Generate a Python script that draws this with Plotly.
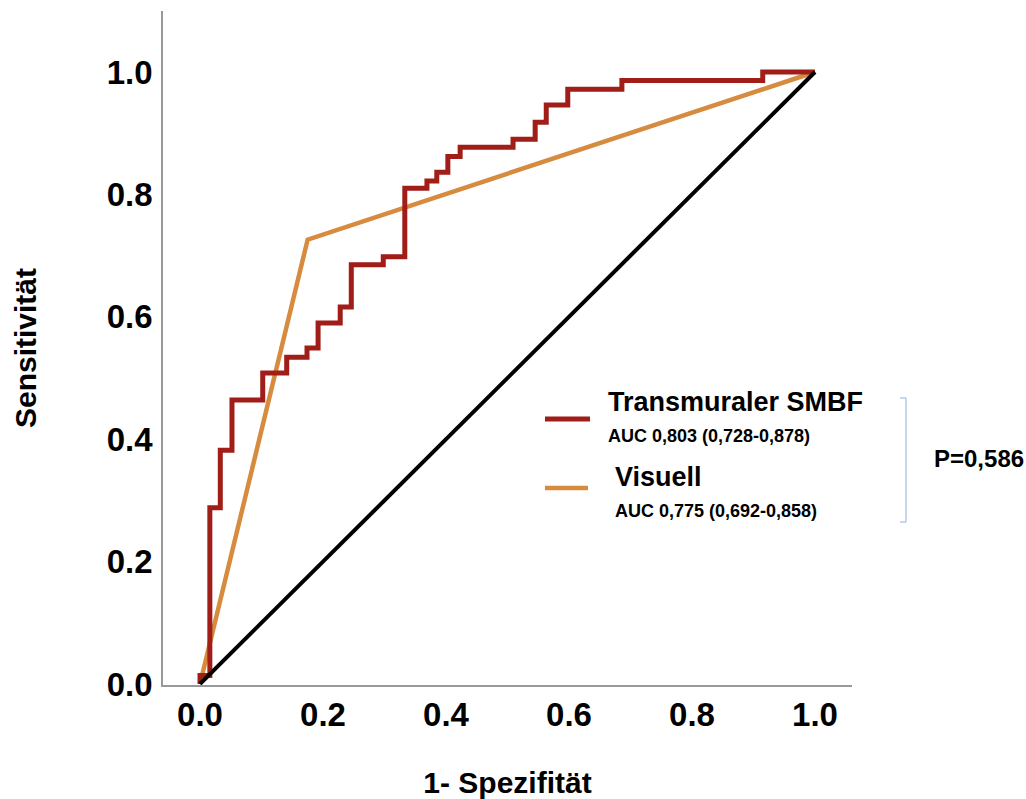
import plotly.graph_objects as go

# ---------------- data ----------------
smbf_fpr = [0, 0, 0.016, 0.033, 0.052, 0.102, 0.141, 0.174, 0.192, 0.228, 0.246, 0.298,
            0.333, 0.369, 0.385, 0.403, 0.423, 0.509, 0.545, 0.563, 0.598, 0.686, 0.915, 1.0]
smbf_tpr = [0, 0.014, 0.288, 0.382, 0.464, 0.508, 0.534, 0.549, 0.590, 0.616, 0.685, 0.698,
            0.810, 0.822, 0.836, 0.862, 0.877, 0.890, 0.918, 0.946, 0.972, 0.986, 1.0, 1.0]

visuell_fpr = [0, 0.175, 1.0]
visuell_tpr = [0, 0.726, 1.0]

ref_fpr = [0, 1]
ref_tpr = [0, 1]

tick_vals = [0.0, 0.2, 0.4, 0.6, 0.8, 1.0]
tick_text = ["0.0", "0.2", "0.4", "0.6", "0.8", "1.0"]

series_names = ["Transmuraler SMBF", "Visuell"]
auc_texts = ["AUC 0,803 (0,728-0,878)", "AUC 0,775 (0,692-0,858)"]
p_text = "P=0,586"
x_title = "1- Spezifität"
y_title = "Sensitivität"

RED = "#a01d18"
ORANGE = "#d68b3f"

# ---------------- layout geometry (pixels) ----------------
W, H = 1026, 799
L, R, T, B = 163, 852, 11, 685


def pxx(px):
    return (px - L) / (R - L)


def pxy(py):
    return (B - py) / (B - T)


FONT = "Liberation Sans, Arial, Helvetica, sans-serif"

fig = go.Figure()
fig.add_trace(go.Scatter(x=visuell_fpr, y=visuell_tpr, mode="lines",
                         line=dict(color=ORANGE, width=4.5), name=series_names[1],
                         showlegend=False))
fig.add_trace(go.Scatter(x=smbf_fpr, y=smbf_tpr, mode="lines",
                         line=dict(color=RED, width=5, shape="hv"), name=series_names[0],
                         showlegend=False))
fig.add_trace(go.Scatter(x=ref_fpr, y=ref_tpr, mode="lines",
                         line=dict(color="black", width=4), name="Referenz",
                         showlegend=False))

axis_common = dict(
    showgrid=False, zeroline=False, showline=True, linecolor="#999999", linewidth=1.5,
    ticks="", tickvals=tick_vals, ticktext=tick_text,
    tickfont=dict(family=FONT, size=33, color="black", weight="bold"),
)

fig.update_layout(
    width=W, height=H,
    margin=dict(l=L, r=W - R, t=T, b=H - B, autoexpand=False),
    paper_bgcolor="white", plot_bgcolor="white",
    xaxis=dict(range=[(L - 200) / 615, (R - 200) / 615], ticklabelstandoff=0,
               title=dict(text=x_title, font=dict(family=FONT, size=30, color="black", weight="bold"),
                          standoff=41),
               **axis_common),
    yaxis=dict(range=[(684 - B) / 612, (684 - T) / 612], ticklabelstandoff=2,
               title=dict(text=y_title, font=dict(family=FONT, size=30, color="black", weight="bold"),
                          standoff=61),
               **axis_common),
)

# legend swatches
fig.add_shape(type="line", xref="paper", yref="paper", x0=pxx(545), x1=pxx(590),
              y0=pxy(419), y1=pxy(419), line=dict(color=RED, width=5))
fig.add_shape(type="line", xref="paper", yref="paper", x0=pxx(545), x1=pxx(588),
              y0=pxy(488), y1=pxy(488), line=dict(color=ORANGE, width=4.5))

# bracket
BR = "#9dbde3"
for (x0, y0, x1, y1) in [(900, 398, 906, 398), (906, 398, 906, 522), (900, 522, 906, 522)]:
    fig.add_shape(type="line", xref="paper", yref="paper", x0=pxx(x0), x1=pxx(x1),
                  y0=pxy(y0), y1=pxy(y1), line=dict(color=BR, width=1.2))

ann = [
    (series_names[0], 606, 402, 27),
    (auc_texts[0], 606, 436, 18),
    (series_names[1], 613, 477, 27),
    (auc_texts[1], 613, 511, 18),
    (p_text, 932, 458, 24),
]
for text, x, y, s in ann:
    fig.add_annotation(text=text, xref="paper", yref="paper", x=pxx(x), y=pxy(y),
                       xanchor="left", yanchor="middle", showarrow=False,
                       font=dict(family=FONT, size=s, color="black", weight="bold"))

fig.write_html("out.html")
